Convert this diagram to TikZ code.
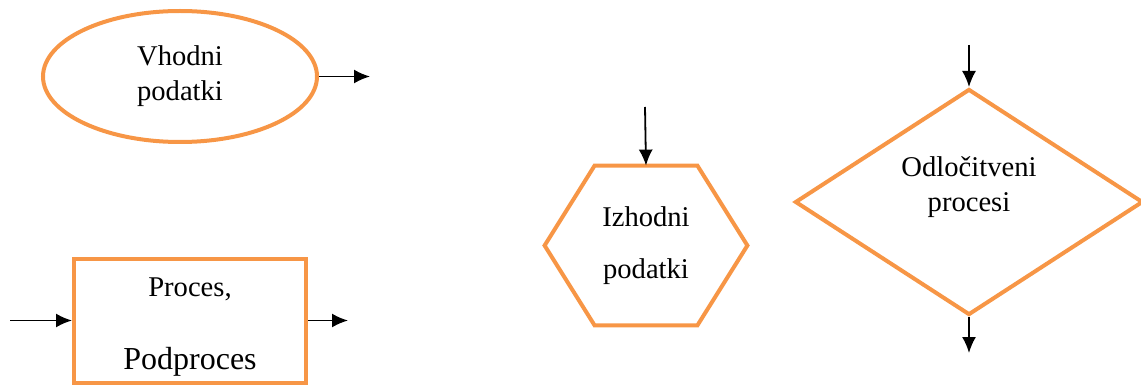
\documentclass[tikz,border=0pt]{standalone}
\usepackage{fontspec}
\setmainfont{Liberation Serif}
\usetikzlibrary{shapes.geometric,arrows.meta}
\definecolor{okvir}{HTML}{F79646}

\begin{document}
\begin{tikzpicture}[x=0.5pt,y=-0.5pt,>={Latex[length=8pt,width=7pt]},
  blok/.style={draw=okvir,line width=2pt,inner sep=0pt},
  tok/.style={->,line width=0.9pt},
  besedilo/.style={align=center,font=\fontsize{14.3}{17.5}\selectfont}]
\useasboundingbox (0,0) rectangle (1141,385);
% vhodni podatki
\node[blok,besedilo,ellipse,minimum width=137pt,minimum height=65.5pt] (vhod) at (180,76.5) {Vhodni\\podatki};
\coordinate (v1) at (370,76.5);
% proces
\node[blok,rectangle,minimum width=116pt,minimum height=62pt] (proc) at (190,320.5) {};
\node[besedilo] (proctxt) at (190,327) {Proces,\\[19pt]{\fontsize{16}{19}\selectfont Podproces}};
\coordinate (p0) at (10,320.5);
\coordinate (p1) at (348,320.5);
% izhodni podatki
\node[besedilo,minimum width=101pt,minimum height=79.5pt,inner sep=0pt] (izh) at (646,245.5) {Izhodni\\[8.5pt]podatki};
\draw[blok] ([xshift=25pt]izh.north west) -- ([xshift=-25pt]izh.north east) -- (izh.east)
  -- ([xshift=-25pt]izh.south east) -- ([xshift=25pt]izh.south west) -- (izh.west) -- cycle;
\coordinate (i0) at (645,107);
% odlocitveni procesi
\node[blok,diamond,minimum width=174pt,minimum height=113pt] (odl) at (969,202) {};
\node[besedilo] (odltxt) at (969,187) {Odločitveni\\procesi};
\coordinate (o0) at (969,45);
\coordinate (o1) at (969,353);
%%
\draw[tok] (vhod) -- (v1);
\draw[tok] (p0) -- (proc);
\draw[tok] (proc) -- (p1);
\draw[tok] (i0) -- (izh.north);
\draw[tok] (o0) -- (odl.north);
\draw[tok] (odl.south) -- (o1);
\end{tikzpicture}
\end{document}
